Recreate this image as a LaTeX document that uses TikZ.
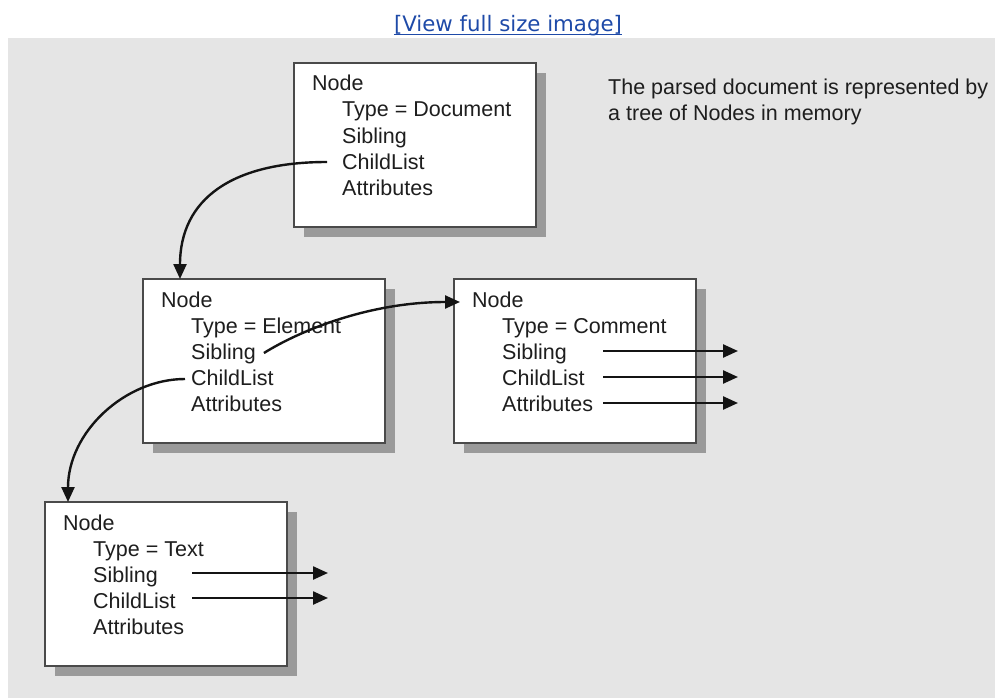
\documentclass[tikz,border=0pt]{standalone}
\usepackage{fontspec}
\setmainfont{Liberation Sans}
\newfontfamily\linkfont{DejaVu Sans}
\usetikzlibrary{arrows.meta,calc,shadows}
\definecolor{bg}{HTML}{E5E5E5}
\definecolor{boxline}{HTML}{4A4A4A}
\definecolor{shadowc}{HTML}{9A9A9A}
\definecolor{txt}{HTML}{1E1E1E}
\definecolor{linkc}{HTML}{1E4AA8}
\newcommand{\mkbox}[4]{%
  \node[box] (#1) at (#2,#3) {};
  \node[lbl] (#1-node)  at (#2+18,#3+28)  {Node};
  \node[lbl] (#1-type)  at (#2+48,#3+54)  {Type = #4};
  \node[lbl] (#1-sib)   at (#2+48,#3+80)  {Sibling};
  \node[lbl] (#1-child) at (#2+48,#3+106) {ChildList};
  \node[lbl] (#1-attr)  at (#2+48,#3+132) {Attributes};
}
\begin{document}
\begin{tikzpicture}[x=1pt,y=-1pt,
  box/.style={draw=boxline, line width=2pt, fill=white,
    minimum width=242pt, minimum height=164pt, outer sep=0pt, inner sep=0pt,
    anchor=north west,
    drop shadow={shadow xshift=10pt, shadow yshift=-10pt, fill=shadowc, opacity=1}},
  lbl/.style={anchor=base west, inner sep=0pt, text height=14pt, text depth=0pt,
    text=txt, font=\fontsize{21.5}{24}\selectfont},
  arr/.style={draw=black!92, line width=2.4pt, -{Triangle[length=15pt,width=13pt]}}
]
\fill[white] (0,0) rectangle (995,698);
\useasboundingbox (0,0) rectangle (995,698);
\fill[bg] (8,38) rectangle (995,698);

% link
\node[anchor=base, inner sep=0pt, text=linkc, font=\linkfont\fontsize{21.3}{24}\selectfont]
  (link) at (508,31.5) {[View full size image]};
\draw[linkc, line width=1.2pt] ([yshift=-2.8pt]link.base west) -- ([yshift=-2.8pt]link.base east);

% caption
\node[lbl] (cap1) at (608,95)  {The parsed document is represented by};
\node[lbl] (cap2) at (608,121) {a tree of Nodes in memory};

% boxes
\mkbox{d}{294}{63}{Document}
\mkbox{e}{143}{279}{Element}
\mkbox{c}{454}{279}{Comment}
\mkbox{t}{45}{502}{Text}

% free ends of the outgoing pointers
\coordinate (c-as) at (603,0);
\coordinate (c-ae) at (738,0);
\coordinate (t-as) at (192,0);
\coordinate (t-ae) at (328,0);

% curved pointers
\draw[arr] ($(d-child.west)+(-15,0)$) .. controls +(-95,0) and +(0,-80) .. ($(e.north west)+(37,0)$);
\draw[arr] ($(e-child.west)+(-6,1)$) .. controls +(-60,0) and +(0,-70) .. ($(t.north west)+(23,0)$);
\draw[arr] ($(e-sib.east)+(8,1)$) .. controls +(37,-23) and +(-90,0) .. ($(c-node.west)+(-12,2)$);

% straight pointers
\draw[arr] ($(c-sib.west -| c-as)+(0,-1)$)   -- ($(c-sib.west -| c-ae)+(0,-1)$);
\draw[arr] ($(c-child.west -| c-as)+(0,-1)$) -- ($(c-child.west -| c-ae)+(0,-1)$);
\draw[arr] ($(c-attr.west -| c-as)+(0,-1)$)  -- ($(c-attr.west -| c-ae)+(0,-1)$);
\draw[arr] ($(t-sib.west -| t-as)+(0,-2)$)   -- ($(t-sib.west -| t-ae)+(0,-2)$);
\draw[arr] ($(t-child.west -| t-as)+(0,-3)$) -- ($(t-child.west -| t-ae)+(0,-3)$);
\end{tikzpicture}
\end{document}
